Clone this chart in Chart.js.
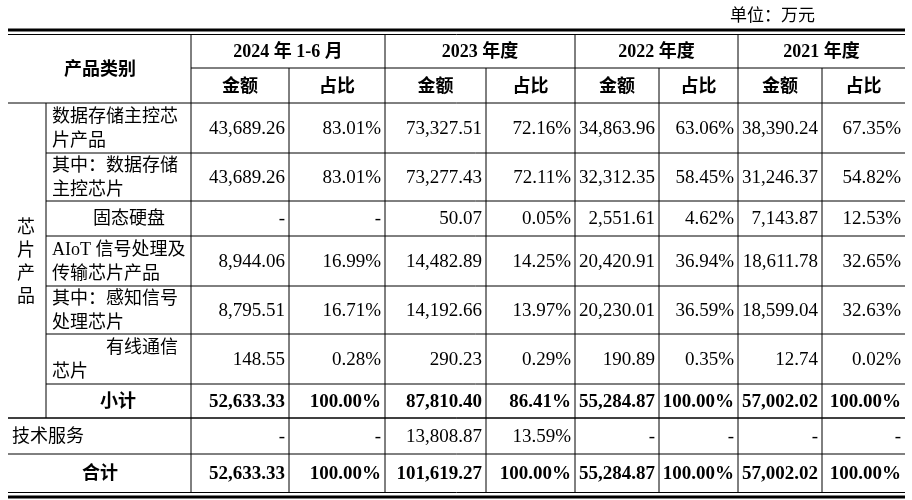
<!DOCTYPE html>
<html>
<head>
<meta charset="utf-8">
<script src="https://cdn.jsdelivr.net/npm/chart.js@4"></script>
<style>
body { margin: 0; background: #fff; }
</style>
</head>
<body>
<canvas id="myChart" width="912" height="500"></canvas>
<script>
// table data
const periods = ['2024 年 1-6 月', '2023 年度', '2022 年度', '2021 年度'];
const subHeads = ['金额', '占比'];
const rowLabels = [
    ['数据存储主控芯', '片产品'],
    ['其中：数据存储', '主控芯片'],
    ['固态硬盘'],
    ['AIoT 信号处理及', '传输芯片产品'],
    ['其中：感知信号', '处理芯片'],
    ['有线通信', '芯片'],
    ['小计'],
    ['技术服务'],
    ['合计']
];
const amt2024 = ['43,689.26', '43,689.26', '-', '8,944.06', '8,795.51', '148.55', '52,633.33', '-', '52,633.33'];
const pct2024 = ['83.01%', '83.01%', '-', '16.99%', '16.71%', '0.28%', '100.00%', '-', '100.00%'];
const amt2023 = ['73,327.51', '73,277.43', '50.07', '14,482.89', '14,192.66', '290.23', '87,810.40', '13,808.87', '101,619.27'];
const pct2023 = ['72.16%', '72.11%', '0.05%', '14.25%', '13.97%', '0.29%', '86.41%', '13.59%', '100.00%'];
const amt2022 = ['34,863.96', '32,312.35', '2,551.61', '20,420.91', '20,230.01', '190.89', '55,284.87', '-', '55,284.87'];
const pct2022 = ['63.06%', '58.45%', '4.62%', '36.94%', '36.59%', '0.35%', '100.00%', '-', '100.00%'];
const amt2021 = ['38,390.24', '31,246.37', '7,143.87', '18,611.78', '18,599.04', '12.74', '57,002.02', '-', '57,002.02'];
const pct2021 = ['67.35%', '54.82%', '12.53%', '32.65%', '32.63%', '0.02%', '100.00%', '-', '100.00%'];
const columns = [amt2024, pct2024, amt2023, pct2023, amt2022, pct2022, amt2021, pct2021];
const boldRows = [6, 8];

// layout
const colEdges = [191, 289, 385, 486, 575, 659, 738, 822, 905];
const rowEdges = [103, 153, 201, 236, 286, 334, 384, 418, 454, 492];
const left = 8, groupLine = 46;

const serif = '"Liberation Serif", "Noto Sans CJK SC", serif';
const cjk = '"Liberation Serif", "Noto Sans CJK SC", sans-serif';

const tablePlugin = {
    id: 'table',
    afterDraw(chart) {
        const c = chart.ctx;
        const X = v => chart.scales.x.getPixelForValue(v);
        const Y = v => chart.scales.y.getPixelForValue(v);
        c.save();
        c.strokeStyle = '#000';
        c.fillStyle = '#000';
        function hline(x1, x2, y, w) {
            c.lineWidth = w || 1;
            c.beginPath(); c.moveTo(X(x1), Y(y)); c.lineTo(X(x2), Y(y)); c.stroke();
        }
        function vline(x, y1, y2) {
            c.lineWidth = 1;
            c.beginPath(); c.moveTo(X(x), Y(y1)); c.lineTo(X(x), Y(y2)); c.stroke();
        }
        const right = colEdges[colEdges.length - 1];
        // double top and bottom rules
        hline(left, right, 30, 3);
        hline(left, right, 34.5, 1);
        hline(left, right, 492.5, 1);
        hline(left, right, 497, 3);
        hline(colEdges[0], right, 68);
        hline(left, right, 103);
        for (let i = 1; i < rowEdges.length - 1; i++) {
            const x1 = i <= 6 ? groupLine : left;
            hline(x1, right, rowEdges[i]);
        }
        hline(left, right, 418);
        colEdges.slice(0, -1).forEach((x, i) => {
            const top = (i % 2 === 1) ? 68 : 35;
            vline(x, top, 492);
        });
        vline(groupLine, 103, 418);

        // unit
        c.font = '17px ' + cjk;
        c.textBaseline = 'middle';
        c.textAlign = 'left';
        c.fillText('单位：万元', X(730), Y(17));

        // headers
        c.font = 'bold 18px ' + cjk;
        c.textAlign = 'center';
        c.fillText('产品类别', X(100), Y(70));
        periods.forEach((p, i) => {
            c.fillText(p, X((colEdges[2 * i] + colEdges[2 * i + 2]) / 2), Y(52));
            subHeads.forEach((s, j) => {
                const k = 2 * i + j;
                c.fillText(s, X((colEdges[k] + colEdges[k + 1]) / 2), Y(87));
            });
        });

        // group label vertical
        c.font = '18px ' + cjk;
        ['芯', '片', '产', '品'].forEach((ch, i) => {
            c.fillText(ch, X(26), Y(228 + i * 23));
        });

        // row labels
        rowLabels.forEach((lines, r) => {
            const mid = (rowEdges[r] + rowEdges[r + 1]) / 2 + 1;
            const bold = boldRows.includes(r);
            c.font = (bold ? 'bold ' : '') + '18px ' + cjk;
            if (lines.length === 2) {
                c.textAlign = 'left';
                const x1 = r === 5 ? 106 : 52;
                c.fillText(lines[0], X(x1), Y(mid - 12));
                c.fillText(lines[1], X(52), Y(mid + 12));
            } else if (r === 2) {
                c.textAlign = 'left';
                c.fillText(lines[0], X(93), Y(mid));
            } else if (r === 6) {
                c.textAlign = 'center';
                c.fillText(lines[0], X(118), Y(mid));
            } else if (r === 7) {
                c.textAlign = 'left';
                c.fillText(lines[0], X(12), Y(mid));
            } else {
                c.textAlign = 'center';
                c.fillText(lines[0], X(100), Y(mid));
            }
        });

        // values
        c.textAlign = 'right';
        columns.forEach((col, k) => {
            col.forEach((v, r) => {
                const bold = boldRows.includes(r);
                c.font = (bold ? 'bold ' : '') + '19px ' + serif;
                const mid = (rowEdges[r] + rowEdges[r + 1]) / 2;
                c.fillText(v, X(colEdges[k + 1] - 4), Y(mid + 1));
            });
        });
        c.restore();
    }
};

// one invisible anchor point per cell
const cellPoints = [];
columns.forEach((col, k) => col.forEach((v, r) => {
    cellPoints.push({ x: (colEdges[k] + colEdges[k + 1]) / 2, y: (rowEdges[r] + rowEdges[r + 1]) / 2 });
}));

new Chart(document.getElementById('myChart'), {
    type: 'scatter',
    data: { datasets: [{ data: cellPoints, pointRadius: 0 }] },
    options: {
        responsive: false,
        animation: false,
        layout: { padding: 0 },
        scales: {
            x: { type: 'linear', min: 0, max: 912, display: false },
            y: { type: 'linear', min: 0, max: 500, reverse: true, display: false }
        },
        plugins: { legend: { display: false }, tooltip: { enabled: false } }
    },
    plugins: [tablePlugin]
});
</script>
</body>
</html>
